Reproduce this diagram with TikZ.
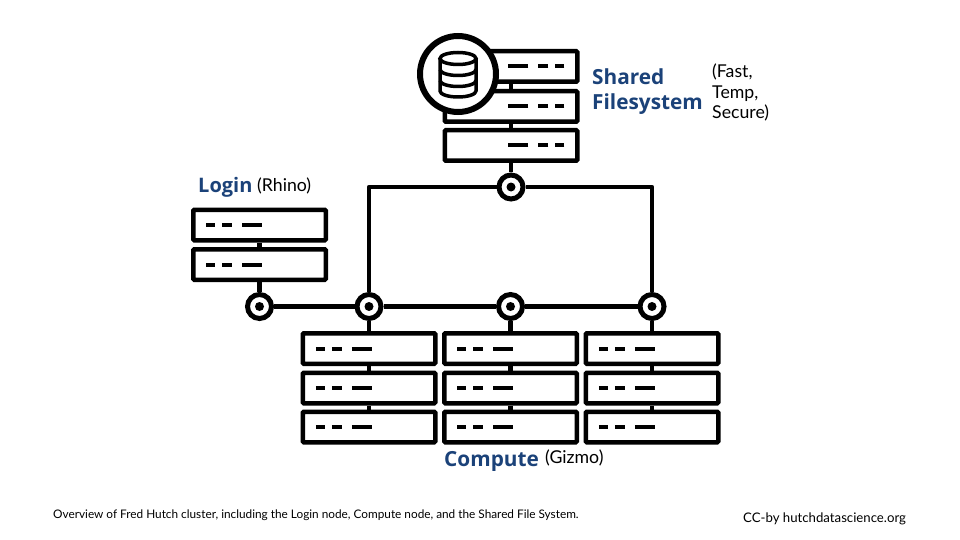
\documentclass[tikz,border=0pt]{standalone}
\usepackage{fontspec}
\setmainfont{Lato}
\newfontfamily\headfont{Open Sans}
\definecolor{headblue}{HTML}{1B4279}
\tikzset{
    rack/.style={rectangle, draw=black, fill=white, line width=4.5pt, rounded corners=1pt, minimum width=132.5pt, minimum height=30.5pt, inner sep=0pt},
    rackL/.style={rack, path picture={
        \draw[line width=4pt] ([xshift=13pt]path picture bounding box.west) -- ++(9,0);
        \draw[line width=4pt] ([xshift=29pt]path picture bounding box.west) -- ++(10,0);
        \draw[line width=4pt] ([xshift=49pt]path picture bounding box.west) -- ++(20,0);}},
    rackR/.style={rack, path picture={
        \draw[line width=4pt] ([xshift=-13pt]path picture bounding box.east) -- ++(-9,0);
        \draw[line width=4pt] ([xshift=-29pt]path picture bounding box.east) -- ++(-10,0);
        \draw[line width=4pt] ([xshift=-49pt]path picture bounding box.east) -- ++(-20,0);}},
    hub/.style={circle, draw=black, fill=white, line width=5pt, minimum size=24pt, inner sep=0pt, path picture={
        \fill[black] (path picture bounding box.center) circle (4.5pt);}},
    wire/.style={draw=black, line width=4.5pt, line join=round},
    head/.style={anchor=base west, inner sep=0pt, text=headblue, font=\headfont\bfseries\fontsize{20.8}{24}\selectfont},
    note/.style={anchor=base west, inner sep=0pt, text=black, font=\fontsize{17.7}{20}\selectfont},
    foot/.style={anchor=base west, inner sep=0pt, text=black}
}
\begin{document}
\begin{tikzpicture}[x=1pt, y=-1pt]
        \useasboundingbox (0,0) rectangle (960,540);
        
        % shared filesystem
        \node[rackR] (s1) at (511,66.5) {};
        \node[rackR] (s2) at (511,106.5) {};
        \node[rackR] (s3) at (511,145.5) {};
        
        % login
        \node[rackL] (l1) at (259.5,225) {};
        \node[rackL] (l2) at (259.5,264.5) {};
        
        % compute
        \node[rackL] (c11) at (369,348.5) {};
        \node[rackL] (c12) at (369,388) {};
        \node[rackL] (c13) at (369,427) {};
        \node[rackL] (c21) at (510.5,348.5) {};
        \node[rackL] (c22) at (510.5,388) {};
        \node[rackL] (c23) at (510.5,427) {};
        \node[rackL] (c31) at (652,348.5) {};
        \node[rackL] (c32) at (652,388) {};
        \node[rackL] (c33) at (652,427) {};
        
        % hubs
        \node[hub] (h0) at (511,187) {};
        \node[hub] (hl) at (259.5,306.5) {};
        \node[hub] (h1) at (369,306.5) {};
        \node[hub] (h2) at (510.5,306.5) {};
        \node[hub] (h3) at (652,306.5) {};
        
        \draw[wire] (s1) -- (s2);
        \draw[wire] (s2) -- (s3);
        \draw[wire] (s3) -- (h0);
        
        \draw[wire] (l1) -- (l2);
        \draw[wire] (l2) -- (hl);
        
        \draw[wire] (hl) -- (h1);
        \draw[wire] (h1) -- (h2);
        \draw[wire] (h2) -- (h3);
        
        \draw[wire] (h0) -- (369,187) -- (h1);
        \draw[wire] (h0) -- (652,187) -- (h3);
        
        \draw[wire] (h1) -- (c11);
        \draw[wire] (c11) -- (c12);
        \draw[wire] (c12) -- (c13);
        \draw[wire] (h2) -- (c21);
        \draw[wire] (c21) -- (c22);
        \draw[wire] (c22) -- (c23);
        \draw[wire] (h3) -- (c31);
        \draw[wire] (c31) -- (c32);
        \draw[wire] (c32) -- (c33);
        
        % database badge
        \node[circle, draw=black, fill=white, line width=6pt, minimum size=76pt, inner sep=0pt] (db) at (458,74) {};
        \draw[line width=3.5pt, line join=round] (440,58.5) -- (440,91) arc[start angle=180, end angle=360, x radius=18, y radius=-6] -- (476,58.5);
        \draw[line width=3.5pt] (458,58.5) ellipse[x radius=18, y radius=6];
        \draw[line width=3.5pt] (440,69.5) arc[start angle=180, end angle=360, x radius=18, y radius=-6];
        \draw[line width=3.5pt] (440,80.5) arc[start angle=180, end angle=360, x radius=18, y radius=-6];
        
        % labels
        \node[head] (sharedlabel) at (592,85) {Shared};
        \node[head] (fslabel) at (592,110) {Filesystem};
        \node[note] (fastlabel) at (712,78) {(Fast,};
        \node[note] (templabel) at (712,99) {Temp,};
        \node[note] (securelabel) at (712,119) {Secure)};
        \node[head, font=\headfont\bfseries\fontsize{20}{24}\selectfont] (loginlabel) at (198,192) {Login};
        \node[note] (rhinolabel) at (257,191) {(Rhino)};
        \node[head] (computelabel) at (444,466) {Compute};
        \node[note] (gizmolabel) at (545,463) {(Gizmo)};
        
        \node[foot, font=\fontsize{11.8}{14}\selectfont] (caption) at (53,518) {Overview of Fred Hutch cluster, including the Login node, Compute node, and the Shared File System.};
        \node[foot, font=\fontsize{13.2}{16}\selectfont] (credit) at (743,522) {CC-by hutchdatascience.org};
        
    \end{tikzpicture}
\end{document}
